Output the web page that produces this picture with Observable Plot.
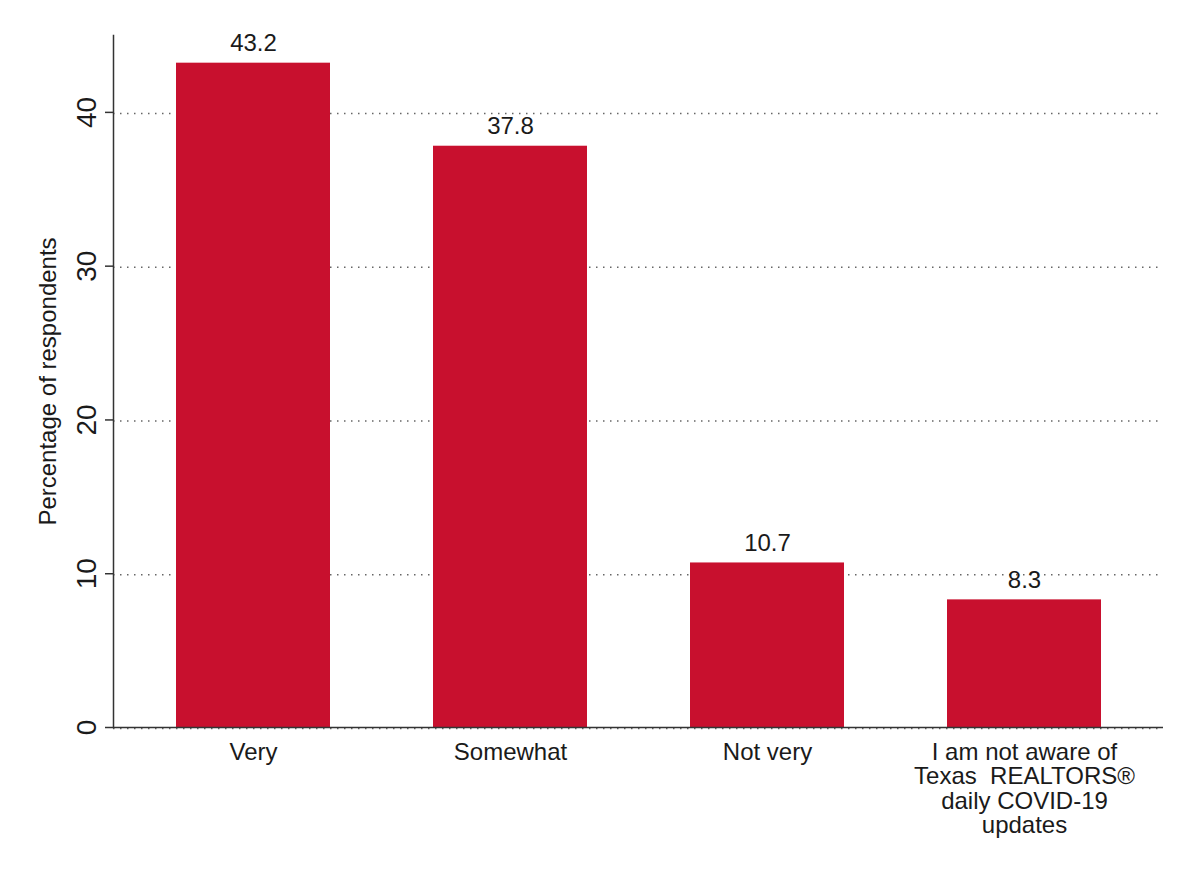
<!DOCTYPE html>
<html>
<head>
<meta charset="utf-8">
<script src="https://cdn.jsdelivr.net/npm/d3@7"></script>
<script src="https://cdn.jsdelivr.net/npm/@observablehq/plot@0.6"></script>
<style>
  html, body { margin: 0; padding: 0; background: white; }
  #chart svg { display: block; }
</style>
</head>
<body>
<div id="chart"></div>
<script>
const categories = [
  "Very",
  "Somewhat",
  "Not very",
  "I am not aware of\nTexas\u00a0 REALTORS®\ndaily COVID-19\nupdates"
];
const values = [43.2, 37.8, 10.7, 8.3];
const yTicks = [0, 10, 20, 30, 40];
const yTitle = "Percentage of respondents";

const data = categories.map((c, i) => ({category: c, value: values[i]}));

const font = "'Liberation Sans', Arial, Helvetica, sans-serif";
const ink = "#1a1a1a";

const chart = Plot.plot({
  width: 1195,
  height: 872,
  marginLeft: 113,
  marginRight: 32,
  marginTop: 35,
  marginBottom: 145,
  style: {fontFamily: font, background: "white", color: ink},
  x: {domain: categories, paddingInner: 0.4026, paddingOuter: 0.2405, axis: null},
  y: {domain: [0, 45]},
  marks: [
    Plot.ruleY(yTicks, {stroke: "#666", strokeWidth: 1.5, strokeDasharray: "1.5,5.5", dy: 1}),
    Plot.barY(data, {x: "category", y: "value", fill: "#C8102E"}),
    Plot.ruleY([0], {stroke: "#333", strokeWidth: 1.5}),
    Plot.frame({anchor: "left", stroke: "#333", strokeWidth: 1.5}),
    Plot.axisY({ticks: yTicks, tickSize: 8, tickFormat: () => "", label: null, stroke: "#333", strokeWidth: 1.5}),
    Plot.text(yTicks, {y: d => d, text: d => String(d), frameAnchor: "left", dx: -26, rotate: -90,
      textAnchor: "middle", lineAnchor: "middle", fontSize: 28, fill: ink}),
    Plot.text([yTitle], {y: 22.5, text: d => d, frameAnchor: "left", dx: -65, rotate: -90,
      textAnchor: "middle", lineAnchor: "middle", fontSize: 24, fill: ink}),
    Plot.text(data, {x: "category", y: "value", text: d => d.value.toFixed(1), dy: -12,
      lineAnchor: "bottom", fontSize: 24, fill: ink}),
    Plot.text(data, {x: "category", text: "category", frameAnchor: "bottom", lineAnchor: "top",
      dy: 15, fontSize: 24, lineHeight: 1.02, fill: ink})
  ]
});
document.getElementById("chart").appendChild(chart);
</script>
</body>
</html>
